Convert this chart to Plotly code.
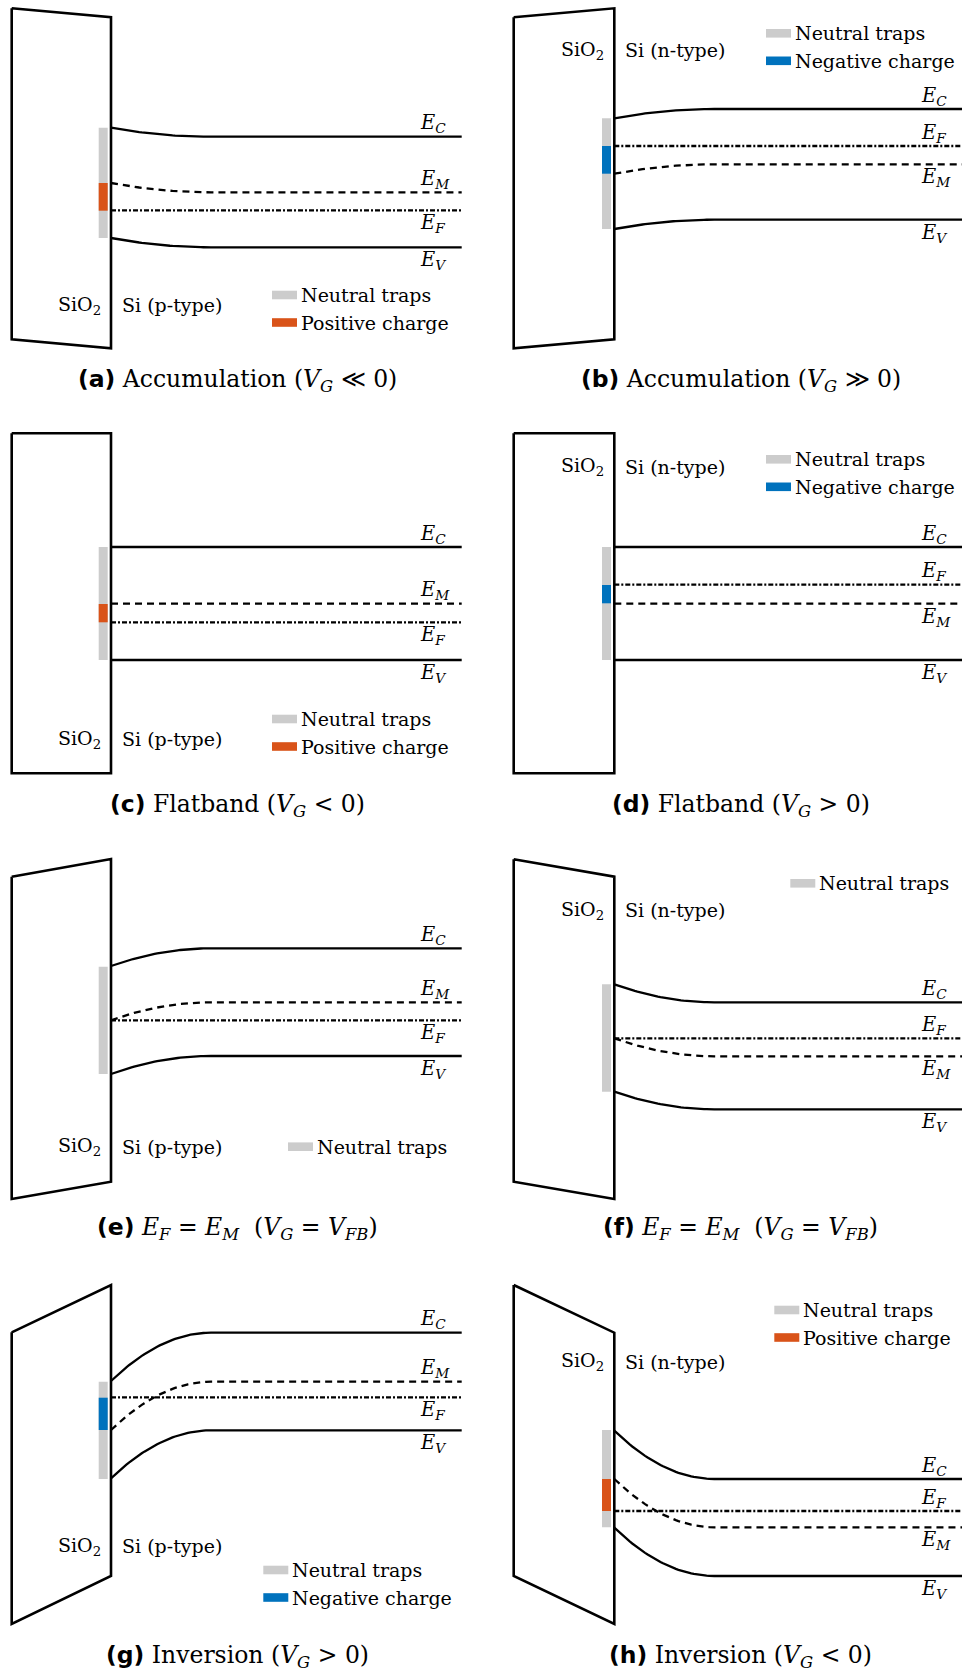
import numpy as np
import plotly.graph_objects as go

FIG_W, FIG_H = 962, 1673

# ---------------- data (levels in local panel units, measured downward) ----------------
PANELS = ["a", "b", "c", "d", "e", "f", "g", "h"]
SI_TYPE = ["p", "n", "p", "n", "p", "n", "p", "n"]
CAPTION_TAGS = ["(a)", "(b)", "(c)", "(d)", "(e)", "(f)", "(g)", "(h)"]
CAPTION_TEXTS = [
    "Accumulation (<i>V</i><sub><i>G</i></sub> ≪ 0)",
    "Accumulation (<i>V</i><sub><i>G</i></sub> ≫ 0)",
    "Flatband (<i>V</i><sub><i>G</i></sub> &lt; 0)",
    "Flatband (<i>V</i><sub><i>G</i></sub> &gt; 0)",
    "<i>E</i><sub><i>F</i></sub> = <i>E</i><sub><i>M</i></sub>  (<i>V</i><sub><i>G</i></sub> = <i>V</i><sub><i>FB</i></sub>)",
    "<i>E</i><sub><i>F</i></sub> = <i>E</i><sub><i>M</i></sub>  (<i>V</i><sub><i>G</i></sub> = <i>V</i><sub><i>FB</i></sub>)",
    "Inversion (<i>V</i><sub><i>G</i></sub> &gt; 0)",
    "Inversion (<i>V</i><sub><i>G</i></sub> &lt; 0)",
]

EC_SURF = [127.7, 118.3, 127.0, 127.0, 126.0, 144.3, 121.0, 170.7]
EC_BULK = [136.7, 109.0, 127.0, 127.0, 108.3, 162.3, 72.7, 219.0]
EM_SURF = [183.0, 173.7, 183.7, 183.7, 180.3, 198.3, 170.0, 219.0]
EM_BULK = [192.3, 164.3, 183.7, 183.7, 162.3, 216.3, 121.7, 267.3]
EF_LEVEL = [210.3, 146.0, 202.3, 164.7, 180.3, 198.3, 137.3, 251.0]
EV_SURF = [238.0, 229.0, 240.0, 240.0, 234.0, 251.7, 218.3, 267.7]
EV_BULK = [247.3, 219.7, 240.0, 240.0, 216.0, 269.3, 170.3, 316.0]

TRAP_TOP = [127.7, 118.3, 127.0, 127.0, 126.7, 144.3, 121.7, 170.0]
TRAP_BOT = [238.0, 229.0, 240.0, 240.0, 234.0, 251.7, 219.0, 267.3]
CHARGE = ["pos", "neg", "pos", "neg", None, None, "neg", "pos"]
CHARGE_TOP = [183.0, 146.0, 184.0, 165.0, None, None, 137.7, 219.0]
CHARGE_BOT = [210.7, 173.7, 202.3, 183.3, None, None, 170.0, 251.0]

OX_TOP_L = [8.3, 17.3, 13.3, 13.3, 36.7, 19.3, 72.3, 25.0]
OX_TOP_R = [17.3, 8.3, 13.3, 13.3, 19.0, 36.7, 25.0, 72.7]
OX_BOT_L = [339.3, 348.3, 353.3, 353.3, 359.0, 341.7, 364.0, 316.0]
OX_BOT_R = [348.3, 339.3, 353.3, 353.3, 341.7, 359.0, 316.0, 364.0]

BAND_NAMES = ["C", "M", "F", "V"]

# ---------------- layout / style ----------------
ROW_TOP = [0, 420, 840, 1260]
ROW_H = [420, 420, 420, 413]
COL_LEFT = [0, 502]
COL_W = [481, 460]
COL_IFACE = [111.0, 112.3]      # interface position inside column (px)
OX_LEFT = [-99.3, -100.6]
BEND_LEN = 100.0
LINE_END = 350.7

TEXT_Y = [305, 50, 319, 46.7, 306.7, 70, 286, 101.7]
LEG_Y = [295, 33.3, 299, 39.3, 306.7, 43.3, 310, 50]
LEG_X = [161, 151.7, 161, 151.7, 177, 176, 152.3, 160]
CAP_Y = [380, 380, 385, 385, 388.3, 388.3, 396.7, 396.7]
CAP_X = 126.5
LABEL_X = [307, 305]

GRAY = "#cccccc"
ORANGE = "#d95319"
BLUE = "#0072bd"
SERIF = "DejaVu Serif"
SANS = "DejaVu Sans"
TXT = 19
LAB = 19.5
CAP = 23.5

fig = go.Figure()
layout = dict(width=FIG_W, height=FIG_H, margin=dict(l=0, r=0, t=0, b=0),
              paper_bgcolor="white", plot_bgcolor="white", showlegend=False)
shapes, annots = [], []

for i, p in enumerate(PANELS):
    r, c = i // 2, i % 2
    ax = "" if i == 0 else str(i + 1)
    xr, yr = "x" + ax, "y" + ax
    x0 = COL_LEFT[c] / FIG_W
    x1 = (COL_LEFT[c] + COL_W[c]) / FIG_W
    y1 = 1 - ROW_TOP[r] / FIG_H
    y0 = 1 - (ROW_TOP[r] + ROW_H[r]) / FIG_H
    layout["xaxis" + ax] = dict(domain=[x0, x1], range=[-COL_IFACE[c], COL_W[c] - COL_IFACE[c]],
                                visible=False, fixedrange=True, anchor=yr)
    layout["yaxis" + ax] = dict(domain=[y0, y1], range=[ROW_H[r], 0],
                                visible=False, fixedrange=True, anchor=xr)

    # oxide outline
    ox = OX_LEFT[c]
    fig.add_trace(go.Scatter(
        x=[ox, 0, 0, ox, ox], y=[OX_TOP_L[i], OX_TOP_R[i], OX_BOT_R[i], OX_BOT_L[i], OX_TOP_L[i]],
        mode="lines", line=dict(color="black", width=2.6), xaxis=xr, yaxis=yr,
        hoverinfo="skip"))

    # trap bar and charge
    shapes.append(dict(type="rect", xref=xr, yref=yr, x0=-12.3, x1=-3.3,
                       y0=TRAP_TOP[i], y1=TRAP_BOT[i], fillcolor=GRAY, line=dict(width=0),
                       layer="below"))
    if CHARGE[i]:
        shapes.append(dict(type="rect", xref=xr, yref=yr, x0=-12.3, x1=-3.3,
                           y0=CHARGE_TOP[i], y1=CHARGE_BOT[i],
                           fillcolor=ORANGE if CHARGE[i] == "pos" else BLUE,
                           line=dict(width=0), layer="below"))

    # bands
    t = np.linspace(0, 1, 40)
    bands = {
        "C": (EC_SURF[i], EC_BULK[i], "solid", 2.3),
        "M": (EM_SURF[i], EM_BULK[i], "7px,5px", 2.3),
        "F": (EF_LEVEL[i], EF_LEVEL[i], "5px,2px,2px,2px", 2.3),
        "V": (EV_SURF[i], EV_BULK[i], "solid", 2.3),
    }
    for name in BAND_NAMES:
        s, b, dash, w = bands[name]
        xs = list(t * BEND_LEN) + [LINE_END]
        ys = list(b + (s - b) * (1 - t) ** 2) + [b]
        fig.add_trace(go.Scatter(x=xs, y=ys, mode="lines",
                                 line=dict(color="black", width=w, dash=dash),
                                 xaxis=xr, yaxis=yr, hoverinfo="skip"))

    # band labels: upper two above their line, lower two below
    order = sorted(BAND_NAMES, key=lambda n: bands[n][1])
    for k, name in enumerate(order):
        b = bands[name][1]
        yl = b - 13 if k < 2 else b + 13.5
        annots.append(dict(xref=xr, yref=yr, x=LABEL_X[c], y=yl, xanchor="left", yanchor="middle",
                           text="<i>E</i><sub><i>%s</i></sub>" % name, showarrow=False,
                           font=dict(family=SERIF, size=LAB, color="black")))

    # material labels
    annots.append(dict(xref=xr, yref=yr, x=-8.5, y=TEXT_Y[i], xanchor="right", yanchor="middle",
                       text="SiO<sub>2</sub>", showarrow=False,
                       font=dict(family=SERIF, size=TXT, color="black")))
    annots.append(dict(xref=xr, yref=yr, x=8.5, y=TEXT_Y[i], xanchor="left", yanchor="middle",
                       text="Si (%s-type)" % SI_TYPE[i], showarrow=False,
                       font=dict(family=SERIF, size=TXT, color="black")))

    # legend
    entries = [("Neutral traps", GRAY)]
    if CHARGE[i] == "pos":
        entries.append(("Positive charge", ORANGE))
    elif CHARGE[i] == "neg":
        entries.append(("Negative charge", BLUE))
    for k, (lab, col) in enumerate(entries):
        ly = LEG_Y[i] + 27.5 * k
        shapes.append(dict(type="rect", xref=xr, yref=yr, x0=LEG_X[i], x1=LEG_X[i] + 25,
                           y0=ly - 4.3, y1=ly + 4.3, fillcolor=col, line=dict(width=0)))
        annots.append(dict(xref=xr, yref=yr, x=LEG_X[i] + 26.5, y=ly, xanchor="left",
                           yanchor="middle", text=lab, showarrow=False,
                           font=dict(family=SERIF, size=TXT, color="black")))

    # caption
    annots.append(dict(xref=xr, yref=yr, x=CAP_X, y=CAP_Y[i], xanchor="center", yanchor="middle",
                       text='<span style="font-family:%s"><b>%s</b></span> %s'
                            % (SANS, CAPTION_TAGS[i], CAPTION_TEXTS[i]),
                       showarrow=False, font=dict(family=SERIF, size=CAP, color="black")))

layout["shapes"] = shapes
layout["annotations"] = annots
fig.update_layout(**layout)
fig.write_html("out.html")
